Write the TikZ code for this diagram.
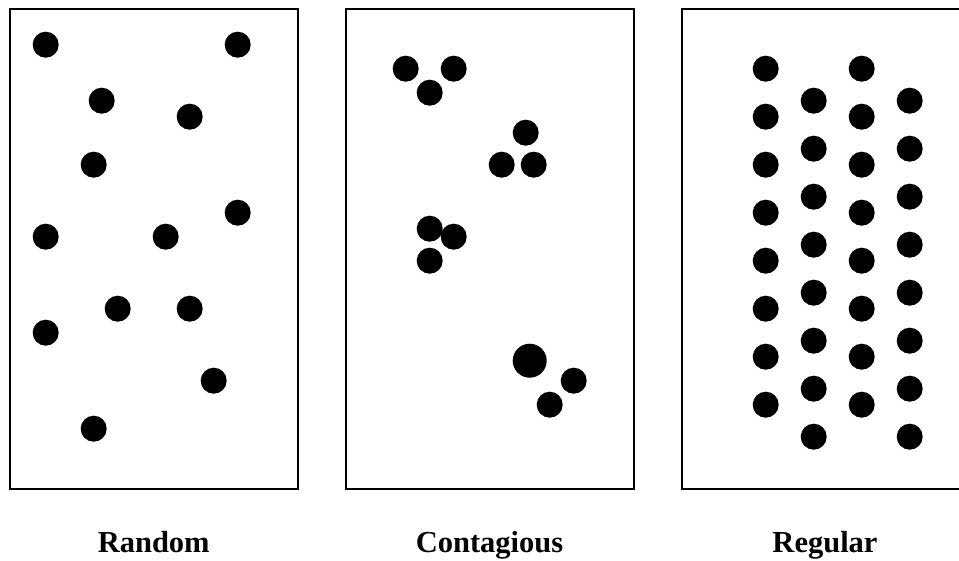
\documentclass[tikz,border=0pt]{standalone}
\usepackage{fontspec}
\setmainfont{Liberation Serif}
\begin{document}
\begin{tikzpicture}[x=1pt,y=-1pt,
  panel/.style={draw=black,line width=2pt},
  dot/.style={fill=black},
  caption/.style={anchor=base,inner sep=0pt,font=\fontsize{30.5}{36}\selectfont\bfseries}]
\useasboundingbox (0,0) rectangle (959,560);
\clip (0,0) rectangle (959,560);

% three sampling plots
\draw[panel] (9.5,9) rectangle (298,489);
\draw[panel] (345.5,9) rectangle (633.5,489);
\draw[panel] (681.5,9) rectangle (969,489);

% random pattern
\foreach \x/\y in {45.7/44.7, 237.7/44.7, 101.7/100.7, 189.7/116.7, 93.7/164.7,
                   237.7/212.7, 45.7/236.7, 165.7/236.7, 117.7/308.7, 189.7/308.7,
                   45.7/332.7, 213.7/380.7, 93.7/428.7}
  \fill[dot] (\x,\y) circle[radius=13pt];

% contagious (clumped) pattern
\foreach \x/\y in {405.7/68.7, 453.7/68.7, 429.7/92.7,
                   525.7/132.7, 501.7/164.7, 533.7/164.7,
                   429.7/228.7, 453.7/236.7, 429.7/260.7,
                   573.7/380.7, 549.7/404.7}
  \fill[dot] (\x,\y) circle[radius=13pt];
\fill[dot] (529.7,360.7) circle[radius=17pt];

% regular pattern
\foreach \x in {765.7, 861.7}
  \foreach \k in {0,...,7}
    \fill[dot] (\x,68.7+48*\k) circle[radius=13pt];
\foreach \x in {813.7, 909.7}
  \foreach \k in {0,...,7}
    \fill[dot] (\x,100.7+48*\k) circle[radius=13pt];

% captions
\node[caption] (lr) at (153.7,552) {Random};
\node[caption] (lc) at (489.5,552) {Contagious};
\node[caption] (lg) at (825,552) {Regular};
\end{tikzpicture}
\end{document}
